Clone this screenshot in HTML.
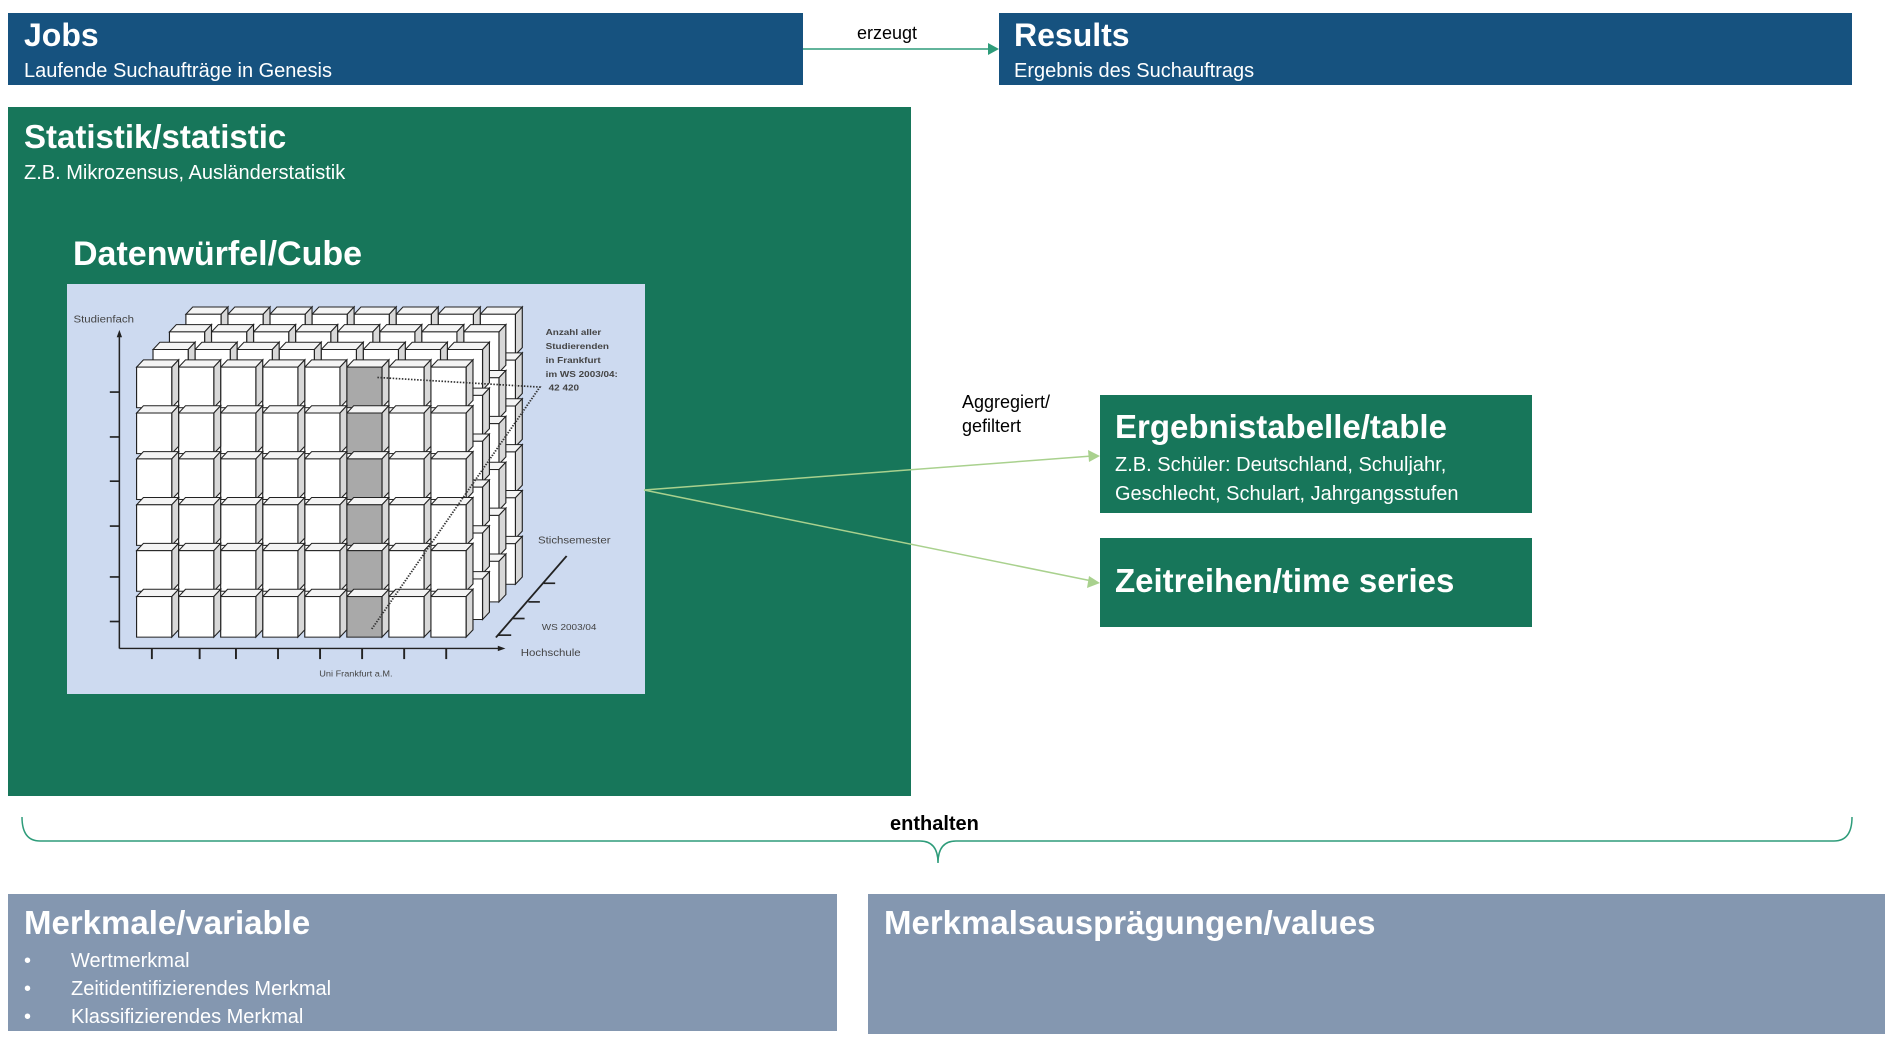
<!DOCTYPE html>
<html><head><meta charset="utf-8">
<style>
body{margin:0;width:1885px;height:1044px;position:relative;background:#fff;font-family:"Liberation Sans",sans-serif;overflow:hidden}
.b{position:absolute;color:#fff}
.t{position:absolute;white-space:nowrap}
</style></head><body>
<div class="b" style="left:8px;top:13px;width:795px;height:72px;background:#16527f"></div>
<div class="t" style="left:24px;top:17px;color:#fff;font-size:32px;font-weight:bold">Jobs</div>
<div class="t" style="left:24px;top:60px;color:#fff;font-size:20px">Laufende Suchaufträge in Genesis</div>
<div class="b" style="left:999px;top:13px;width:853px;height:72px;background:#16527f"></div>
<div class="t" style="left:1014px;top:17px;color:#fff;font-size:32px;font-weight:bold">Results</div>
<div class="t" style="left:1014px;top:60px;color:#fff;font-size:20px">Ergebnis des Suchauftrags</div>
<div class="t" style="left:857px;top:23px;font-size:18px;color:#000">erzeugt</div>

<div class="b" style="left:8px;top:107px;width:903px;height:689px;background:#17765a"></div>
<div class="t" style="left:24px;top:118px;color:#fff;font-size:33px;font-weight:bold">Statistik/statistic</div>
<div class="t" style="left:24px;top:162px;color:#fff;font-size:20px">Z.B. Mikrozensus, Ausländerstatistik</div>
<div class="t" style="left:73px;top:235px;color:#fff;font-size:34px;font-weight:bold">Datenwürfel/Cube</div>
<div class="b" style="left:67px;top:284px;width:578px;height:410px;background:#cddaf0"></div>
<svg id="cube" style="position:absolute;left:67px;top:284px" width="578" height="410" viewBox="18 12 1512 1233" preserveAspectRatio="none">
<g id="cg"></g>
<line x1="155" y1="1108" x2="155" y2="160" stroke="#222" stroke-width="4"/>
<polygon points="155,150 148,172 162,172" fill="#222"/>
<line x1="155" y1="1108" x2="1150" y2="1108" stroke="#222" stroke-width="4"/>
<polygon points="1165,1108 1145,1100 1145,1116" fill="#222"/>
<g stroke="#222" stroke-width="5">
<line x1="130" y1="337" x2="155" y2="337"/><line x1="130" y1="472" x2="155" y2="472"/><line x1="130" y1="605" x2="155" y2="605"/><line x1="130" y1="740" x2="155" y2="740"/><line x1="130" y1="893" x2="155" y2="893"/><line x1="130" y1="1027" x2="155" y2="1027"/>
<line x1="240" y1="1108" x2="240" y2="1140"/><line x1="365" y1="1108" x2="365" y2="1140"/><line x1="460" y1="1108" x2="460" y2="1140"/><line x1="570" y1="1108" x2="570" y2="1140"/><line x1="680" y1="1108" x2="680" y2="1140"/><line x1="790" y1="1108" x2="790" y2="1140"/><line x1="900" y1="1108" x2="900" y2="1140"/><line x1="1010" y1="1108" x2="1010" y2="1140"/>
<line x1="1140" y1="1075" x2="1325" y2="830"/>
<line x1="1265" y1="912" x2="1295" y2="912"/><line x1="1225" y1="968" x2="1255" y2="968"/><line x1="1185" y1="1018" x2="1215" y2="1018"/><line x1="1145" y1="1068" x2="1180" y2="1068"/>
</g>
<polyline points="830,293 1255,322 815,1050" fill="none" stroke="#333" stroke-width="5" stroke-dasharray="4,4"/>
<g font-family="Liberation Sans" fill="#444" font-size="30">
<text x="35" y="128">Studienfach</text>
<text x="1250" y="792">Stichsemester</text>
<text x="1260" y="1052" font-size="26">WS 2003/04</text>
<text x="1205" y="1130">Hochschule</text>
<text x="678" y="1193" font-size="24">Uni Frankfurt a.M.</text>
<g font-weight="bold" font-size="26"><text x="1270" y="165">Anzahl aller</text><text x="1270" y="207">Studierenden</text><text x="1270" y="249">in Frankfurt</text><text x="1270" y="291">im WS 2003/04:</text><text x="1278" y="333">42 420</text></g>
</g>
</svg>

<svg style="position:absolute;left:0;top:0" width="1885" height="1044">
<line x1="803" y1="49" x2="990" y2="49" stroke="#2e9c7a" stroke-width="1.5"/>
<polygon points="999,49 988,43 988,55" fill="#2e9c7a"/>
<line x1="644" y1="490" x2="1092" y2="456" stroke="#a9d18e" stroke-width="1.5"/>
<polygon points="1100,456 1088,450 1089,462" fill="#a9d18e"/>
<line x1="644" y1="490" x2="1092" y2="581" stroke="#a9d18e" stroke-width="1.5"/>
<polygon points="1100,583 1089,576 1087,588" fill="#a9d18e"/>
<path d="M22,817 Q22,841 40,841 L920,841 Q938,841 938,863 Q938,841 956,841 L1834,841 Q1852,841 1852,817" fill="none" stroke="#2e9c7a" stroke-width="1.5"/>
</svg>
<div class="t" style="left:962px;top:390px;font-size:18px;line-height:24px;color:#000">Aggregiert/<br>gefiltert</div>

<div class="b" style="left:1100px;top:395px;width:432px;height:118px;background:#17765a"></div>
<div class="t" style="left:1115px;top:408px;color:#fff;font-size:33px;font-weight:bold">Ergebnistabelle/table</div>
<div class="t" style="left:1115px;top:451px;color:#fff;font-size:20px;line-height:29px">Z.B. Schüler: Deutschland, Schuljahr,<br>Geschlecht, Schulart, Jahrgangsstufen</div>
<div class="b" style="left:1100px;top:538px;width:432px;height:89px;background:#17765a"></div>
<div class="t" style="left:1115px;top:562px;color:#fff;font-size:33px;font-weight:bold">Zeitreihen/time series</div>

<div class="t" style="left:890px;top:813px;font-size:20px;font-weight:bold;color:#000">enthalten</div>

<div class="b" style="left:8px;top:894px;width:829px;height:137px;background:#8497b0"></div>
<div class="t" style="left:24px;top:904px;color:#fff;font-size:33px;font-weight:bold">Merkmale/variable</div>
<div class="t" style="left:24px;top:947px;color:#fff;font-size:20px;line-height:28px">•<br>•<br>•</div>
<div class="t" style="left:71px;top:947px;color:#fff;font-size:20px;line-height:28px">Wertmerkmal<br>Zeitidentifizierendes Merkmal<br>Klassifizierendes Merkmal</div>
<div class="b" style="left:868px;top:894px;width:1017px;height:140px;background:#8497b0"></div>
<div class="t" style="left:884px;top:904px;color:#fff;font-size:33px;font-weight:bold">Merkmalsausprägungen/values</div>

<script>
(function(){
var g=document.getElementById('cg'),s='';
function cube(x,y,fill){
 var w=92,h=122,dx=18,dy=22;
 s+='<polygon points="'+x+','+y+' '+(x+dx)+','+(y-dy)+' '+(x+w+dx)+','+(y-dy)+' '+(x+w)+','+y+'" fill="#f4f4f4" stroke="#222" stroke-width="3"/>';
 s+='<polygon points="'+(x+w)+','+y+' '+(x+w+dx)+','+(y-dy)+' '+(x+w+dx)+','+(y+h-dy)+' '+(x+w)+','+(y+h)+'" fill="#d8d8d8" stroke="#222" stroke-width="3"/>';
 s+='<rect x="'+x+'" y="'+y+'" width="'+w+'" height="'+h+'" fill="'+fill+'" stroke="#222" stroke-width="3"/>';
}
for(var d=3;d>=0;d--){
 for(var r=0;r<6;r++){for(var c=7;c>=0;c--){
  var x=200+110*c+43*d, y=262+138*r-53*d;
  cube(x,y,(d==0&&c==5)?'#a9a9a9':'#fff');
 }}
}
g.innerHTML=s;
})();
</script>
</body></html>
